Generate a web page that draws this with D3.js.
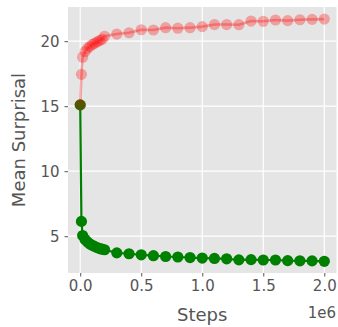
<!DOCTYPE html>
<html>
<head>
<meta charset="utf-8">
<script src="https://cdn.jsdelivr.net/npm/d3@7"></script>
<style>
  body { margin: 0; background: #fff; }
  text { font-family: "DejaVu Sans", sans-serif; }
</style>
</head>
<body>
<div id="chart"></div>
<script>
// steps (in units of 1e6)
const steps = [0, 0.01, 0.02, 0.04, 0.06, 0.08, 0.1, 0.12, 0.14, 0.16, 0.18, 0.2,
  0.3, 0.4, 0.5, 0.6, 0.7, 0.8, 0.9, 1.0, 1.1, 1.2, 1.3, 1.4, 1.5, 1.6, 1.7, 1.8, 1.9, 2.0];
const redSurprisal = [15.1, 17.45, 18.77, 19.2, 19.45, 19.6, 19.75, 19.85, 19.95, 20.05, 20.15, 20.38,
  20.55, 20.65, 20.88, 20.86, 21.04, 21.0, 21.04, 21.12, 21.28, 21.28, 21.27, 21.55, 21.53, 21.63, 21.58, 21.65, 21.68, 21.7];
const greenSurprisal = [15.1, 6.14, 5.05, 4.75, 4.55, 4.4, 4.3, 4.2, 4.12, 4.05, 4.0, 3.96,
  3.72, 3.65, 3.57, 3.5, 3.44, 3.4, 3.36, 3.32, 3.29, 3.26, 3.18, 3.2, 3.17, 3.17, 3.12, 3.11, 3.1, 3.07];
const xTicks = [0, 0.5, 1.0, 1.5, 2.0];
const yTicks = [5, 10, 15, 20];

const width = 338, height = 327;
const margin = {top: 7, right: 1.5, bottom: 54, left: 68};
const w = width - margin.left - margin.right;
const h = height - margin.top - margin.bottom;

const svg = d3.select('#chart')
  .append('svg')
  .attr('width', width)
  .attr('height', height);

const g = svg.append('g')
  .attr('transform', 'translate(' + margin.left + ',' + margin.top + ')');

const x = d3.scaleLinear().domain([-0.1, 2.1]).range([0, w]);
const y = d3.scaleLinear().domain([2.17, 22.63]).range([h, 0]);

// background + grid
g.append('rect').attr('width', w).attr('height', h).attr('fill', '#e5e5e5');

g.selectAll('.gx').data(xTicks).enter().append('line')
  .attr('x1', d => x(d)).attr('x2', d => x(d))
  .attr('y1', 0).attr('y2', h)
  .attr('stroke', '#fff').attr('stroke-width', 1.2);
g.selectAll('.gy').data(yTicks).enter().append('line')
  .attr('y1', d => y(d)).attr('y2', d => y(d))
  .attr('x1', 0).attr('x2', w)
  .attr('stroke', '#fff').attr('stroke-width', 1.2);

// axes
const xAxis = g.append('g')
  .attr('transform', 'translate(0,' + h + ')')
  .call(d3.axisBottom(x).tickValues(xTicks).tickFormat(d3.format('.1f')).tickSize(3.5).tickPadding(4));
const yAxis = g.append('g')
  .call(d3.axisLeft(y).tickValues(yTicks).tickSize(3.5).tickPadding(5));

[xAxis, yAxis].forEach(a => {
  a.select('.domain').remove();
  a.selectAll('line').attr('stroke', '#555');
  a.selectAll('text').attr('fill', '#555').style('font-size', '15px')
    .style('font-family', '"DejaVu Sans", sans-serif');
});

// green series
const data = steps.map((s, i) => ({s: s, r: redSurprisal[i], g: greenSurprisal[i]}));
const lineG = d3.line().x(d => x(d.s)).y(d => y(d.g));
const lineR = d3.line().x(d => x(d.s)).y(d => y(d.r));

g.append('path').datum(data).attr('d', lineG)
  .attr('fill', 'none').attr('stroke', 'green').attr('stroke-width', 2.2);
g.selectAll('.pg').data(data).enter().append('circle')
  .attr('cx', d => x(d.s)).attr('cy', d => y(d.g)).attr('r', 5.6)
  .attr('fill', 'green');

// red series (transparent)
g.append('path').datum(data).attr('d', lineR)
  .attr('fill', 'none').attr('stroke', 'red').attr('stroke-opacity', 0.3).attr('stroke-width', 2.6);
g.selectAll('.pr').data(data).enter().append('circle')
  .attr('cx', d => x(d.s)).attr('cy', d => y(d.r)).attr('r', 5.6)
  .attr('fill', 'red').attr('fill-opacity', 0.3);

// labels
svg.append('text')
  .attr('x', margin.left + w / 2).attr('y', 321)
  .attr('text-anchor', 'middle').attr('fill', '#555')
  .style('font-size', '18px').text('Steps');
svg.append('text')
  .attr('transform', 'translate(25,' + (margin.top + h / 2) + ') rotate(-90)')
  .attr('text-anchor', 'middle').attr('fill', '#555')
  .style('font-size', '18px').text('Mean Surprisal');
svg.append('text')
  .attr('x', 336).attr('y', 318)
  .attr('text-anchor', 'end').attr('fill', '#555')
  .style('font-size', '15px').text('1e6');
</script>
</body>
</html>
